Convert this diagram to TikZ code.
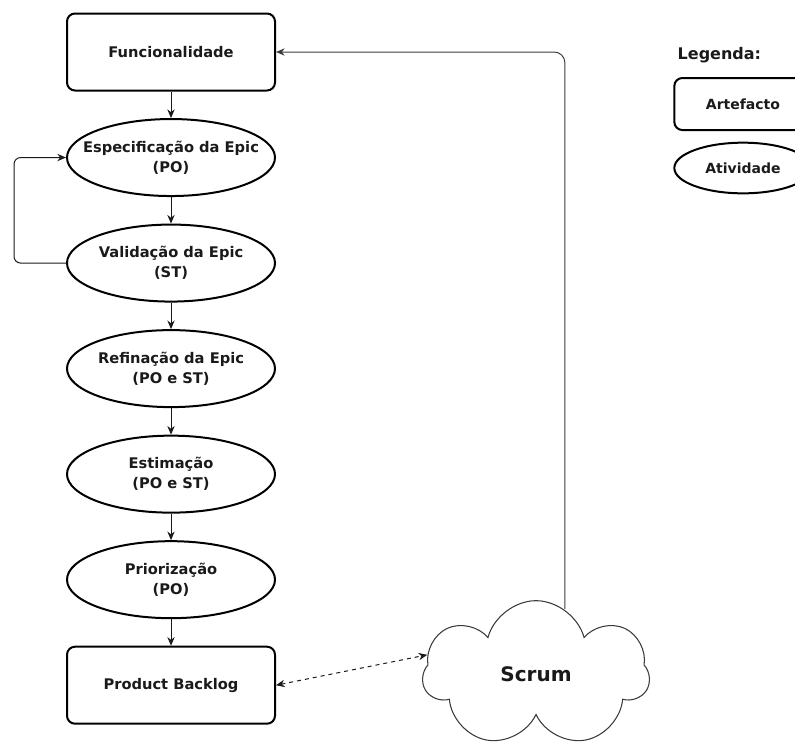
\documentclass[tikz,border=0pt]{standalone}
\usepackage{fontspec}
\setmainfont{DejaVu Sans}
\usetikzlibrary{positioning,shapes.geometric,shapes.symbols,arrows.meta}
\newcommand\zw[1]{\makebox[0pt]{#1}}
\definecolor{ink}{HTML}{1A1A1A}
\tikzset{
  nodefont/.style={font=\bfseries\fontsize{11}{15}\selectfont},
  artefact/.style={draw,line width=1.5pt,rounded corners=6pt,text=ink,
    minimum width=156pt,minimum height=57.75pt,nodefont},
  activity/.style={draw,ellipse,line width=1.5pt,align=center,text=ink,
    minimum width=156pt,minimum height=57.75pt,nodefont},
  flow/.style={->,line width=0.75pt,draw=ink},
}
\begin{document}
\begin{tikzpicture}[x=0.75pt,y=-0.75pt,>={Stealth[length=6.5pt,width=5.5pt]},
    node distance=19.9pt]
  \useasboundingbox (0,0) rectangle (795,751);
  % main flow
  \node[artefact] (func) at (171,52) {Funcionalidade};
  \node[activity,below=of func] (spec) {\zw{Especificação da Epic}\\\zw{(PO)}};
  \node[activity,below=of spec] (valid) {\zw{Validação da Epic}\\\zw{(ST)}};
  \node[activity,below=of valid] (refine) {\zw{Refinação da Epic}\\\zw{(PO e ST)}};
  \node[activity,below=of refine] (estim) {\zw{Estimação}\\\zw{(PO e ST)}};
  \node[activity,below=of estim] (prior) {\zw{Priorização}\\\zw{(PO)}};
  \node[artefact,below=of prior] (backlog) {Product Backlog};
  \foreach \a/\b in {func/spec,spec/valid,valid/refine,refine/estim,estim/prior,prior/backlog}
    \draw[flow] (\a) -- (\b);
  \draw[flow,rounded corners=5pt] (valid.west) -- ++(-52,0) |- (spec.west);
  % scrum cloud
  \node[cloud,draw=ink!85,line width=0.8pt,cloud puffs=7,aspect=1.55,text=ink,
    minimum width=170pt,minimum height=110pt,
    font=\bfseries\fontsize{15}{18}\selectfont] (scrum) at (536,674) {Scrum};
  \draw[flow,draw=ink!85,rounded corners=8pt] (scrum.66) |- (func.east);
  \draw[flow,<->,dashed] (backlog.east) -- (scrum.170);
  % legend
  \node[anchor=west,text=ink,font=\bfseries\fontsize{12}{14}\selectfont] (legend) at (673,55) {Legenda:};
  \node[artefact,minimum width=103pt,minimum height=39pt,
    font=\bfseries\fontsize{10.5}{13}\selectfont] (lart) at (743,104) {Artefacto};
  \node[activity,minimum width=103pt,minimum height=38pt,
    font=\bfseries\fontsize{10.5}{13}\selectfont] (lact) at (743,168) {\zw{Atividade}};
\end{tikzpicture}
\end{document}
